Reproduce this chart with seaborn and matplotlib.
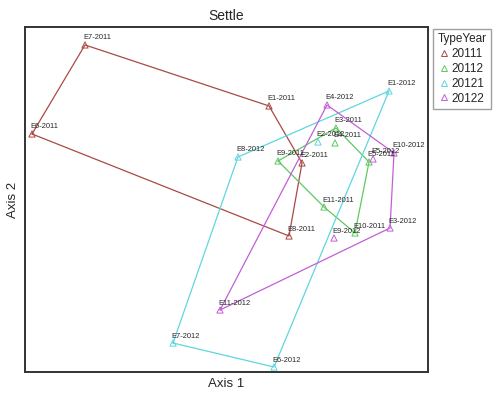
import matplotlib
matplotlib.use('Agg')
import matplotlib.pyplot as plt
import numpy as np
import pandas as pd
import seaborn as sns
from matplotlib.lines import Line2D

# site scores
labels_11 = ['E1-2011', 'E2-2011', 'E6-2011', 'E7-2011', 'E8-2011']
x_11 = [0.43, 0.76, -1.94, -1.41, 0.63]
y_11 = [0.94, 0.37, 0.66, 1.55, -0.36]

labels_12 = ['E3-2011', 'E4-2011', 'E5-2011', 'E9-2011', 'E10-2011', 'E11-2011']
x_12 = [1.10, 1.09, 1.43, 0.52, 1.29, 0.98]
y_12 = [0.72, 0.57, 0.38, 0.39, -0.33, -0.07]

labels_21 = ['E1-2012', 'E2-2012', 'E6-2012', 'E7-2012', 'E8-2012']
x_21 = [1.63, 0.92, 0.48, -0.53, 0.12]
y_21 = [1.09, 0.58, -1.67, -1.43, 0.43]

labels_22 = ['E3-2012', 'E4-2012', 'E5-2012', 'E9-2012', 'E10-2012', 'E11-2012']
x_22 = [1.64, 1.01, 1.47, 1.08, 1.68, -0.06]
y_22 = [-0.28, 0.95, 0.41, -0.38, 0.47, -1.10]

groups = ['20111', '20112', '20121', '20122']
colors = ['#a94a45', '#5ec95e', '#5fd6df', '#c25fd6']

df = pd.concat([
    pd.DataFrame({'label': labels_11, 'x': x_11, 'y': y_11, 'TypeYear': '20111'}),
    pd.DataFrame({'label': labels_12, 'x': x_12, 'y': y_12, 'TypeYear': '20112'}),
    pd.DataFrame({'label': labels_21, 'x': x_21, 'y': y_21, 'TypeYear': '20121'}),
    pd.DataFrame({'label': labels_22, 'x': x_22, 'y': y_22, 'TypeYear': '20122'}),
], ignore_index=True)


def hull(pts):
    # monotone chain convex hull
    pts = sorted(map(tuple, pts))
    def cross(o, a, b):
        return (a[0]-o[0])*(b[1]-o[1]) - (a[1]-o[1])*(b[0]-o[0])
    lower, upper = [], []
    for p in pts:
        while len(lower) >= 2 and cross(lower[-2], lower[-1], p) <= 0:
            lower.pop()
        lower.append(p)
    for p in reversed(pts):
        while len(upper) >= 2 and cross(upper[-2], upper[-1], p) <= 0:
            upper.pop()
        upper.append(p)
    h = lower[:-1] + upper[:-1]
    return np.array(h + [h[0]])


sns.set_style('white')
plt.rcParams['font.family'] = ['Liberation Sans', 'DejaVu Sans']

fig = plt.figure(figsize=(4.93, 3.98), dpi=100)
ax = fig.add_axes([0.0507, 0.0653, 0.8175, 0.867])

pal = dict(zip(groups, colors))
sns.scatterplot(data=df, x='x', y='y', hue='TypeYear', palette=pal, marker='^',
                s=20, linewidth=0.7, legend=False, ax=ax)
for coll in ax.collections:
    fc = coll.get_facecolors()
    coll.set_edgecolors(fc)
    coll.set_facecolors('none')

for g, c in zip(groups, colors):
    sub = df[df.TypeYear == g]
    h = hull(sub[['x', 'y']].values)
    ax.plot(h[:, 0], h[:, 1], color=c, lw=0.9, zorder=1)

for _, r in df.iterrows():
    ax.annotate(r['label'], (r['x'], r['y']), xytext=(-1.5, 2.5),
                textcoords='offset points', fontsize=5.4, ha='left', va='bottom')

ax.set_xlim(-2.01, 2.02)
ax.set_ylim(-1.72, 1.73)
ax.set_xticks([])
ax.set_yticks([])
for sp in ax.spines.values():
    sp.set_color('#333333')
    sp.set_linewidth(1.4)
ax.set_title('Settle', fontsize=10, pad=5)
ax.set_xlabel('Axis 1', fontsize=9.5, labelpad=4)
ax.set_ylabel('Axis 2', fontsize=9.5, labelpad=4)

handles = [Line2D([], [], marker='^', ls='', mfc='none', mec=c, ms=4, mew=0.7)
           for c in colors]
leg = fig.legend(handles, groups, title='TypeYear', loc='upper left',
                 bbox_to_anchor=(0.879, 0.928), fontsize=8.5, title_fontsize=8.5,
                 frameon=True, fancybox=False, handlelength=0.7, handletextpad=0.25,
                 borderpad=0.35, labelspacing=0.25, borderaxespad=0)
leg.get_frame().set_edgecolor('#888888')
leg.get_frame().set_linewidth(1.0)

fig.savefig('out.png', dpi=100)
